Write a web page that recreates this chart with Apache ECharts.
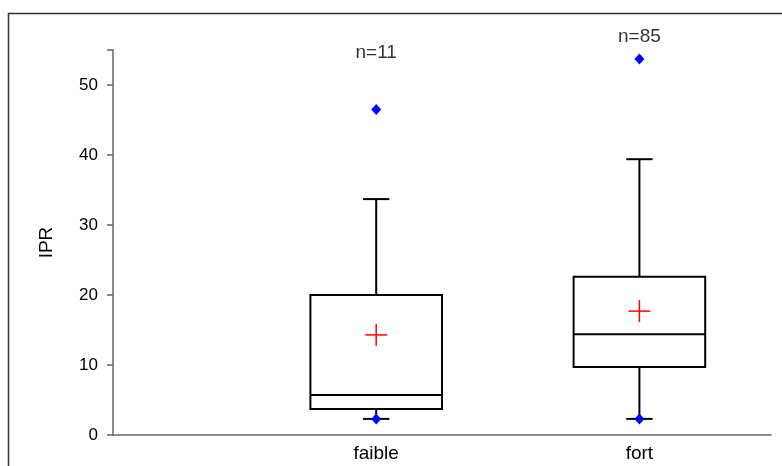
<!DOCTYPE html>
<html>
<head>
<meta charset="utf-8">
<script src="https://cdn.jsdelivr.net/npm/echarts@6/dist/echarts.min.js"></script>
<style>
html,body{margin:0;padding:0;background:#fff;}
#chart{width:782px;height:466px;}
</style>
</head>
<body>
<div id="chart"></div>
<script>
// ---- data ----
const categories = ['faible', 'fort'];
const whiskerLow = [2.3, 2.3];
const q1 = [3.7, 9.7];
const median = [5.7, 14.4];
const q3 = [20.0, 22.6];
const whiskerHigh = [33.7, 39.4];
const means = [14.3, 17.7];
const pointCat = [0, 0, 1, 1];
const pointVal = [46.5, 2.3, 53.7, 2.3];
const nLabels = ['n=11', 'n=85'];
const nLabelY = [54.6, 56.9];
const yTickValues = [0, 10, 20, 30, 40, 50];

const FONT = 'Liberation Sans, Arial, sans-serif';

const boxData = categories.map((c, i) => [i + 1, whiskerLow[i], q1[i], median[i], q3[i], whiskerHigh[i], means[i]]);
const pointData = pointCat.map((c, i) => [c + 1, pointVal[i]]);
const labelData = categories.map((c, i) => ({ value: [i + 1, nLabelY[i]], name: nLabels[i] }));

function renderBox(params, api) {
  const x = api.value(0);
  const p = v => api.coord([x, v]);
  const cx = p(0)[0];
  const half = api.size([0.25, 0])[0];
  const capHalf = api.size([0.05, 0])[0];
  const crossHalf = 11;
  const yLow = p(api.value(1))[1];
  const yQ1 = p(api.value(2))[1];
  const yMed = p(api.value(3))[1];
  const yQ3 = p(api.value(4))[1];
  const yHigh = p(api.value(5))[1];
  const yMean = p(api.value(6))[1];
  const black = { stroke: '#000', lineWidth: 2, fill: null };
  const red = { stroke: '#ff0000', lineWidth: 1.5 };
  return {
    type: 'group',
    children: [
      { type: 'line', shape: { x1: cx, y1: yQ3, x2: cx, y2: yHigh }, style: black },
      { type: 'line', shape: { x1: cx, y1: yLow, x2: cx, y2: yQ1 }, style: black },
      { type: 'line', shape: { x1: cx - capHalf, y1: yHigh, x2: cx + capHalf, y2: yHigh }, style: black },
      { type: 'line', shape: { x1: cx - capHalf, y1: yLow, x2: cx + capHalf, y2: yLow }, style: black },
      { type: 'rect', shape: { x: cx - half, y: yQ3, width: half * 2, height: yQ1 - yQ3 }, style: { stroke: '#000', lineWidth: 2, fill: 'rgba(0,0,0,0)' } },
      { type: 'line', shape: { x1: cx - half, y1: yMed, x2: cx + half, y2: yMed }, style: black },
      { type: 'line', shape: { x1: cx - crossHalf, y1: yMean, x2: cx + crossHalf, y2: yMean }, style: red },
      { type: 'line', shape: { x1: cx, y1: yMean - crossHalf, x2: cx, y2: yMean + crossHalf }, style: red }
    ]
  };
}

const chart = echarts.init(document.getElementById('chart'), null, { renderer: 'canvas' });
chart.setOption({
  animation: false,
  backgroundColor: '#fff',
  textStyle: { fontFamily: FONT },
  graphic: [{
    type: 'rect',
    shape: { x: 8.5, y: 13.5, width: 800, height: 500 },
    style: { fill: null, stroke: '#333', lineWidth: 1.5 },
    silent: true
  }],
  grid: { left: 113, top: 50, right: 11, bottom: 31, containLabel: false },
  xAxis: {
    type: 'value',
    min: 0, max: 2.5, interval: 1,
    axisLine: { show: true, lineStyle: { color: '#666', width: 1.5 } },
    axisTick: { show: false },
    splitLine: { show: false },
    axisLabel: {
      color: '#000', fontSize: 19, fontFamily: FONT, margin: 9,
      showMaxLabel: false, showMinLabel: false,
      formatter: v => (Number.isInteger(v) && v >= 1 && v <= categories.length) ? categories[v - 1] : ''
    }
  },
  yAxis: {
    type: 'value',
    min: 0, max: 55, interval: 10,
    name: 'IPR', nameLocation: 'middle', nameGap: 57,
    nameTextStyle: { color: '#000', fontSize: 19, fontFamily: FONT },
    axisLine: { show: true, lineStyle: { color: '#666', width: 1.5 } },
    axisTick: { show: true, inside: false, length: 6, lineStyle: { color: '#666', width: 1.5 } },
    splitLine: { show: false },
    axisLabel: {
      color: '#000', fontSize: 17, fontFamily: FONT, margin: 15,
      formatter: v => (yTickValues.indexOf(v) >= 0 ? String(v) : '')
    }
  },
  series: [
    {
      type: 'custom',
      renderItem: renderBox,
      data: boxData,
      encode: { x: 0, y: [1, 2, 3, 4, 5] },
      clip: false,
      z: 2
    },
    {
      type: 'scatter',
      data: pointData,
      symbol: 'diamond',
      symbolSize: [10, 11],
      itemStyle: { color: '#0000ff', opacity: 1 },
      clip: false,
      z: 3
    },
    {
      type: 'scatter',
      data: labelData,
      symbolSize: 0,
      clip: false,
      label: {
        show: true, position: 'inside',
        formatter: p => p.name,
        color: '#000', fontSize: 19, fontFamily: FONT
      },
      z: 4
    }
  ]
});
</script>
</body>
</html>
